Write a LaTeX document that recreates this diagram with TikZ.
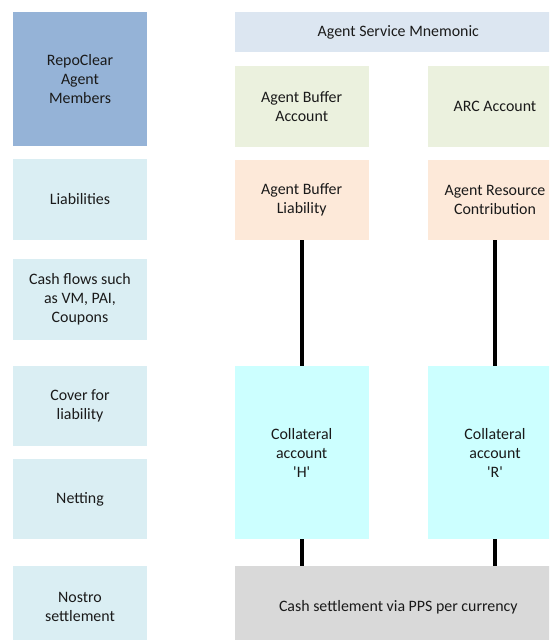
\documentclass[tikz,border=0pt]{standalone}
\usepackage{fontspec}
\setmainfont{Carlito}
\usepackage{tikz}
\usetikzlibrary{positioning}
\usepackage{xcolor}
\definecolor{rc-member}{HTML}{95B3D7}
\definecolor{rc-row}{HTML}{DAEEF3}
\definecolor{rc-mnem}{HTML}{DCE6F1}
\definecolor{rc-acct}{HTML}{EBF1DE}
\definecolor{rc-liab}{HTML}{FDE9D9}
\definecolor{rc-coll}{HTML}{CCFFFF}
\definecolor{rc-cash}{HTML}{D9D9D9}
\definecolor{rc-text}{HTML}{1A1A1A}
\tikzset{x=1pt, y=-1pt, every text node part/.style={align=center, text=rc-text, font={\fontsize{15.9}{19}\selectfont}}}
\tikzstyle{cell} = [inner sep=0pt, outer sep=0pt, minimum width=134pt, minimum height=81pt]
\tikzstyle{row} = [cell, fill=rc-row]
\tikzstyle{wide} = [cell, minimum width=327.4pt]
\tikzstyle{ln} = [draw=black, line width=4pt]

\begin{document}
\begin{tikzpicture}
      \useasboundingbox (0,0) rectangle (549,640);
      \clip (0,0) rectangle (549,640);
      % row labels on the left
      \node[cell, fill=rc-member, minimum height=134pt] (mem) at (80,79) {RepoClear\\Agent\\Members};
      \node[row] (liab) at (80,199.5) {Liabilities};
      \node[row] (flow) at (80,299.5) {Cash flows such\\as VM, PAI,\\Coupons};
      \node[row, minimum height=80pt] (cover) at (80,406) {Cover for\\liability};
      \node[row, minimum height=80pt] (net) at (80,499) {Netting};
      \node[row, minimum height=82pt] (nostro) at (80,607) {Nostro\\settlement};
      % accounts
      \node[wide, fill=rc-mnem, minimum height=40.3pt] (mnem) at (398.3,32.2) {Agent Service Mnemonic};
      \node[cell, fill=rc-acct] (aba) at (301.7,106.2) {Agent Buffer\\Account};
      \node[cell, fill=rc-acct] (arc) at (495,106.2) {ARC Account};
      \node[cell, fill=rc-liab, minimum height=80pt] (abl) at (301.7,200) {Agent Buffer\\Liability};
      \node[cell, fill=rc-liab, minimum height=80pt] (arl) at (495,200) {Agent Resource\\Contribution};
      \node[cell, fill=rc-coll, minimum height=173.3pt] (colh) at (301.7,452.7) {Collateral\\account\\\textquotesingle H\textquotesingle};
      \node[cell, fill=rc-coll, minimum height=173.3pt] (colr) at (495,452.7) {Collateral\\account\\\textquotesingle R\textquotesingle};
      \node[wide, fill=rc-cash, minimum height=82pt] (pps) at (398.3,607) {Cash settlement via PPS per currency};
      % links
      \draw[ln] (abl) -- (colh);
      \draw[ln] (arl) -- (colr);
      \draw[ln] (colh) -- (colh |- pps.north);
      \draw[ln] (colr) -- (colr |- pps.north);
    \end{tikzpicture}
\end{document}
